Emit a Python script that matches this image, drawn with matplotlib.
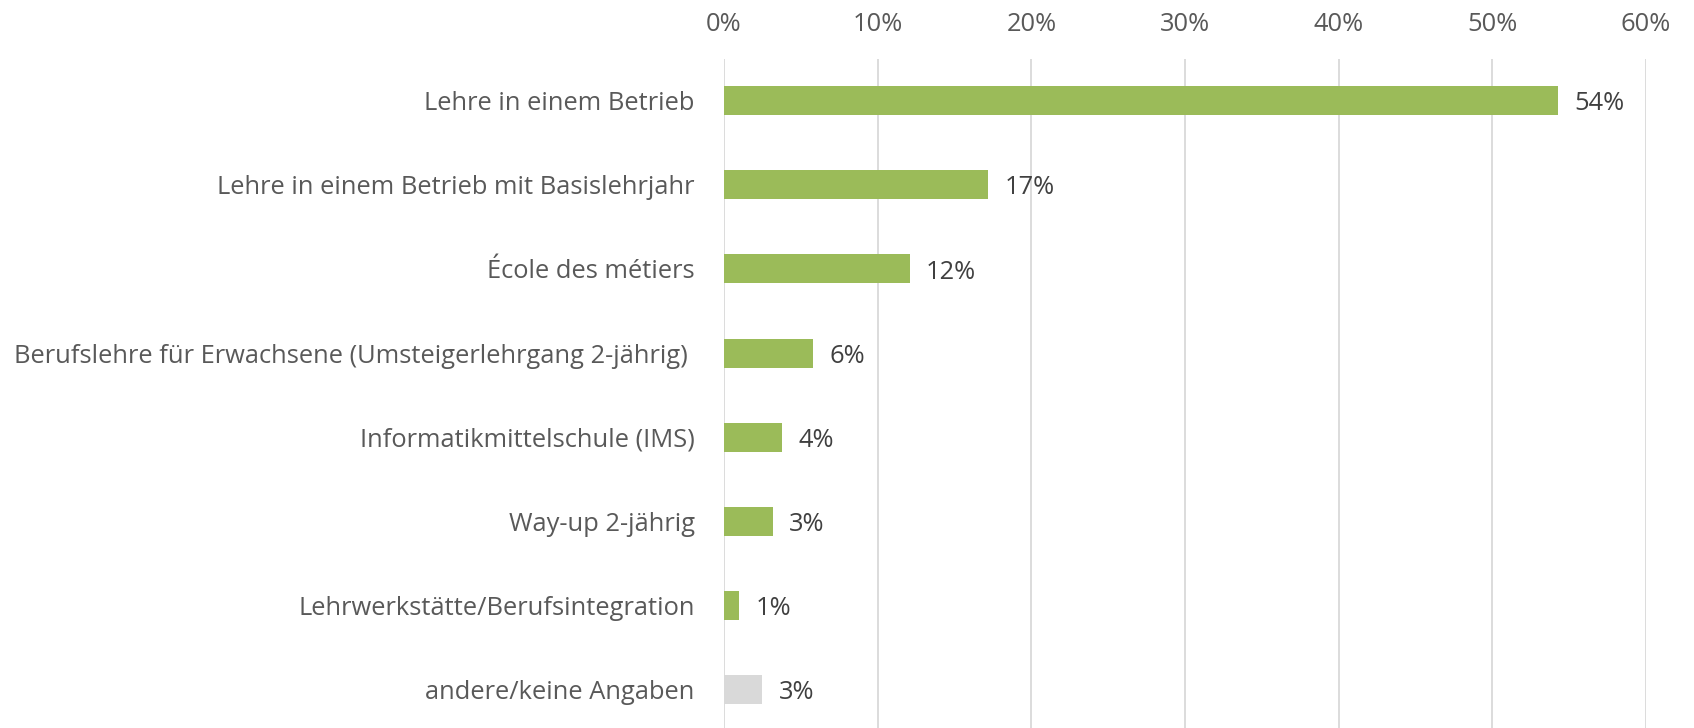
import matplotlib
matplotlib.use("Agg")
import matplotlib.pyplot as plt
from matplotlib.ticker import FixedLocator

categories = [
    "Lehre in einem Betrieb",
    "Lehre in einem Betrieb mit Basislehrjahr",
    "École des métiers",
    "Berufslehre für Erwachsene (Umsteigerlehrgang 2-jährig) ",
    "Informatikmittelschule (IMS)",
    "Way-up 2-jährig",
    "Lehrwerkstätte/Berufsintegration",
    "andere/keine Angaben",
]
values = [54.3, 17.2, 12.1, 5.8, 3.8, 3.2, 1.0, 2.5]
value_labels = ["54%", "17%", "12%", "6%", "4%", "3%", "1%", "3%"]
bar_colors = ["#9BBB59"] * 7 + ["#D9D9D9"]
x_ticks = [0, 10, 20, 30, 40, 50, 60]
x_tick_labels = ["0%", "10%", "20%", "30%", "40%", "50%", "60%"]

plt.rcParams['font.family'] = ['Open Sans', 'DejaVu Sans']
FS = 18.35

fig = plt.figure(figsize=(16.94, 7.28), dpi=100)
ax = fig.add_axes([724/1694, -4/728, (1646-724)/1694, (732-58.5)/728])

y = list(range(len(categories)))
ax.barh(y, values, height=0.345, color=bar_colors, zorder=3)
for yi, v, lab in zip(y, values, value_labels):
    ax.annotate(lab, (v, yi), xytext=(11.5, -2.2), textcoords="offset points",
                va="center", ha="left", fontsize=FS, color="#404040")

ax.set_xlim(0, 60)
ax.set_ylim(7.5, -0.5)
ax.xaxis.set_major_locator(FixedLocator(x_ticks))
ax.set_xticklabels(x_tick_labels)
ax.set_yticks(y)
ax.set_yticklabels(categories)
ax.xaxis.tick_top()
ax.tick_params(axis='x', length=0, pad=15.3, labelsize=FS, labelcolor="#595959")
ax.tick_params(axis='y', length=0, pad=21, labelsize=FS, labelcolor="#595959")
ax.grid(axis='x', color="#D9D9D9", linewidth=1.3, zorder=0)
for s in ax.spines.values():
    s.set_visible(False)

fig.savefig("out.png", dpi=100)
